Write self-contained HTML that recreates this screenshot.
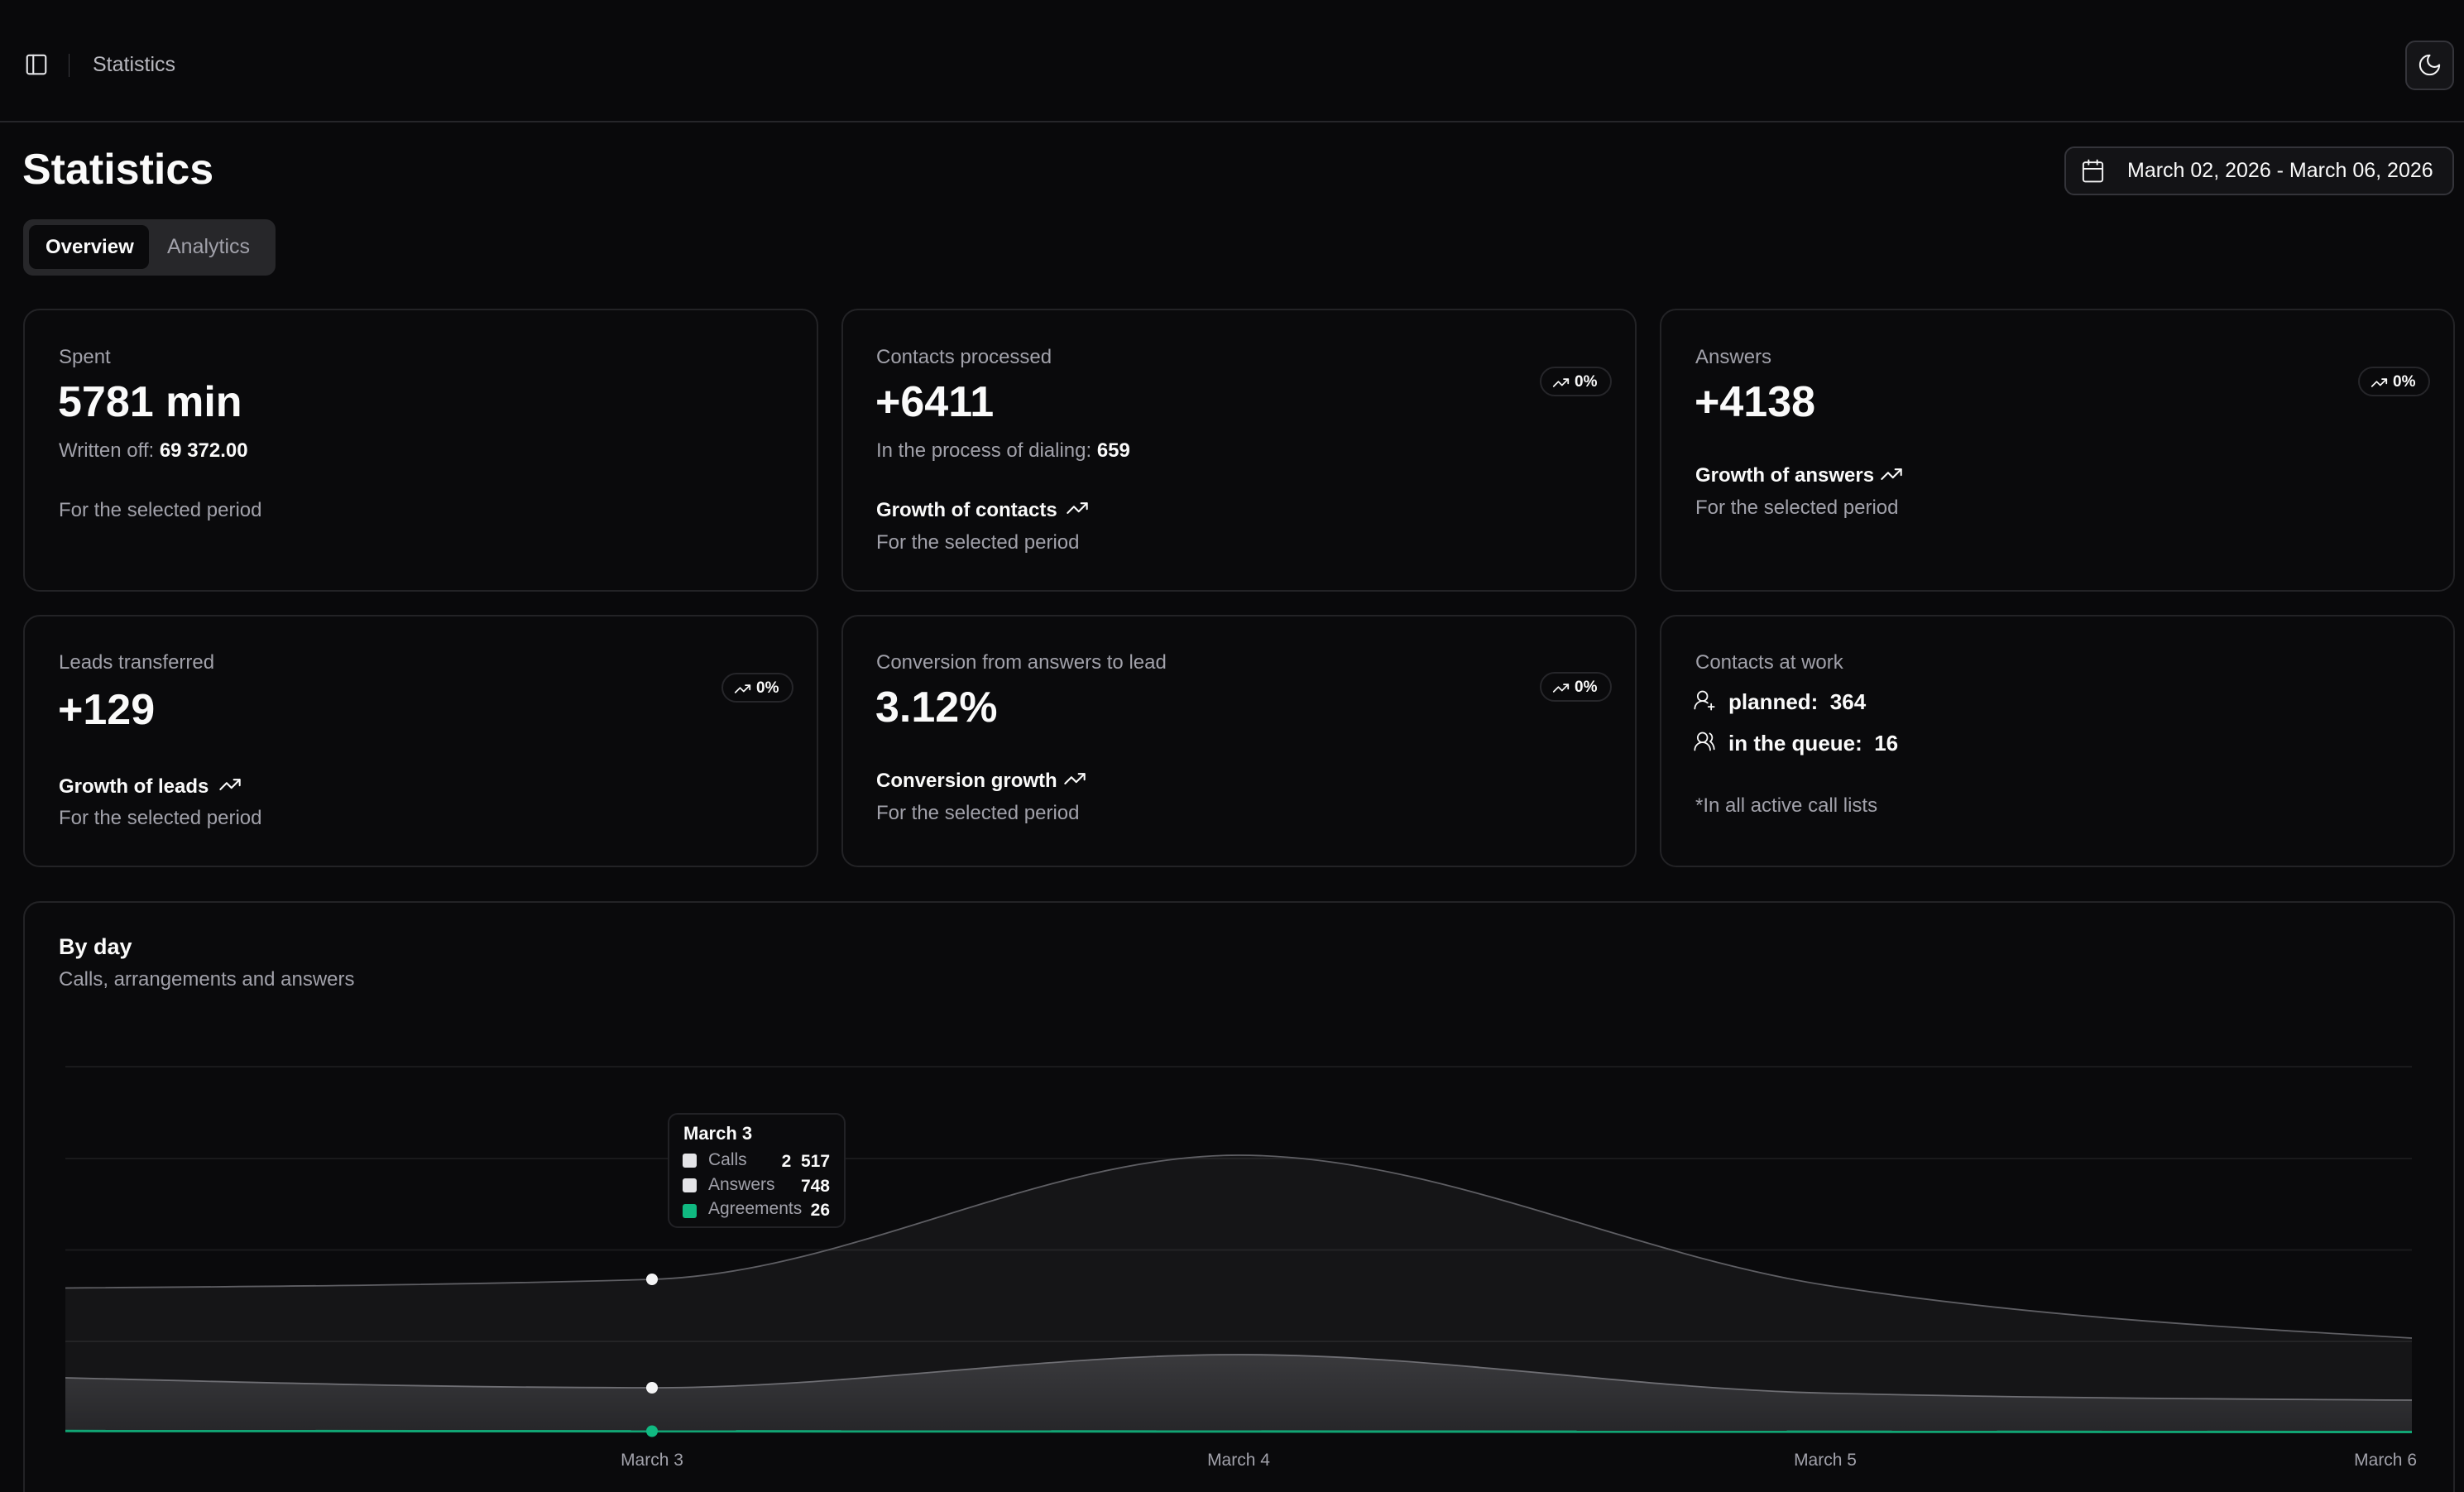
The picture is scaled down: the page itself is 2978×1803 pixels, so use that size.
<!DOCTYPE html>
<html>
<head>
<meta charset="utf-8">
<style>
  html,body{margin:0;padding:0;background:#09090b;width:2978px;height:1803px;overflow:hidden;}
  #root{position:relative;width:2978px;height:1803px;overflow:hidden;background:#09090b;font-family:"Liberation Sans",Arial,sans-serif;}
  .t{position:absolute;line-height:1;white-space:nowrap;}
  .g{color:#a1a1aa;}
  .w{color:#fafafa;}
  .b{font-weight:bold;}
  .card{position:absolute;box-sizing:border-box;border:2px solid #232326;border-radius:20px;background:#0a0a0c;}
  .badge{position:absolute;box-sizing:border-box;width:87px;height:36px;border:2px solid #26262a;border-radius:18px;background:#0a0a0c;}
  .badge svg{position:absolute;left:13px;top:7px;}
  .badge span{position:absolute;left:40px;top:7px;font-size:19px;line-height:1;font-weight:bold;color:#fafafa;}
  svg.ic{position:absolute;}
</style>
</head>
<body>
<div id="root">

<!-- Header -->
<svg class="ic" style="left:29px;top:63px" width="30" height="30" viewBox="0 0 24 24" fill="none" stroke="#e4e4e7" stroke-width="1.7" stroke-linecap="round" stroke-linejoin="round"><rect x="3" y="3" width="18" height="18" rx="2"/><path d="M9 3v18"/></svg>
<div style="position:absolute;left:83px;top:65px;width:1px;height:28px;background:#3a3a3f;"></div>
<div class="t" style="left:112px;top:66px;font-size:25px;color:#b8b8bf;">Statistics</div>

<div style="position:absolute;left:2907px;top:49px;width:59px;height:60px;box-sizing:border-box;border:2px solid #34343a;border-radius:12px;background:#151518;"></div>
<svg class="ic" style="left:2921px;top:63px" width="31" height="31" viewBox="0 0 24 24" fill="none" stroke="#f4f4f5" stroke-width="1.6" stroke-linecap="round" stroke-linejoin="round"><path d="M12 3a6 6 0 0 0 9 9 9 9 0 1 1-9-9Z"/></svg>

<div style="position:absolute;left:0;top:146px;width:2978px;height:2px;background:#26262a;"></div>

<!-- Title row -->
<div class="t w b" style="left:27px;top:179px;font-size:52px;">Statistics</div>

<div style="position:absolute;left:2495px;top:177px;width:471px;height:59px;box-sizing:border-box;border:2px solid #34343a;border-radius:12px;background:#131316;"></div>
<svg class="ic" style="left:2514px;top:191px" width="31" height="31" viewBox="0 0 24 24" fill="none" stroke="#f4f4f5" stroke-width="1.5" stroke-linecap="round" stroke-linejoin="round"><rect x="3" y="4" width="18" height="18" rx="2"/><path d="M16 2v4M8 2v4M3 10h18"/></svg>
<div class="t w" style="left:2571px;top:194px;font-size:25px;">March 02, 2026 - March 06, 2026</div>

<!-- Tabs -->
<div style="position:absolute;left:28px;top:265px;width:305px;height:68px;border-radius:12px;background:#27272a;"></div>
<div style="position:absolute;left:35px;top:272px;width:145px;height:53px;border-radius:9px;background:#0a0a0c;"></div>
<div class="t w b" style="left:55px;top:287px;font-size:24px;">Overview</div>
<div class="t g" style="left:202px;top:286px;font-size:25px;">Analytics</div>

<!-- Row 1 cards -->
<div class="card" style="left:28px;top:373px;width:961px;height:342px;"></div>
<div class="card" style="left:1017px;top:373px;width:961px;height:342px;"></div>
<div class="card" style="left:2006px;top:373px;width:961px;height:342px;"></div>

<!-- Card 1 -->
<div class="t g" style="left:71px;top:420px;font-size:24px;">Spent</div>
<div class="t w b" style="left:70px;top:460px;font-size:52px;">5781 min</div>
<div class="t g" style="left:71px;top:533px;font-size:24px;">Written off: <span class="w b">69 372.00</span></div>
<div class="t g" style="left:71px;top:605px;font-size:24px;">For the selected period</div>

<!-- Card 2 -->
<div class="t g" style="left:1059px;top:420px;font-size:24px;">Contacts processed</div>
<div class="t w b" style="left:1058px;top:460px;font-size:52px;">+6411</div>
<div class="t g" style="left:1059px;top:533px;font-size:24px;">In the process of dialing: <span class="w b">659</span></div>
<div class="t w b" style="left:1059px;top:605px;font-size:24px;">Growth of contacts</div>
<svg class="ic" style="left:1288px;top:600px" width="28" height="28" viewBox="0 0 24 24" fill="none" stroke="#fafafa" stroke-width="1.8" stroke-linecap="round" stroke-linejoin="round"><polyline points="22 7 13.5 15.5 8.5 10.5 2 17"/><polyline points="16 7 22 7 22 13"/></svg>
<div class="t g" style="left:1059px;top:644px;font-size:24px;">For the selected period</div>
<div class="badge" style="left:1861px;top:443px;"><svg width="21" height="21" viewBox="0 0 24 24" fill="none" stroke="#fafafa" stroke-width="2" stroke-linecap="round" stroke-linejoin="round"><polyline points="22 7 13.5 15.5 8.5 10.5 2 17"/><polyline points="16 7 22 7 22 13"/></svg><span>0%</span></div>

<!-- Card 3 -->
<div class="t g" style="left:2049px;top:420px;font-size:24px;">Answers</div>
<div class="t w b" style="left:2048px;top:460px;font-size:52px;">+4138</div>
<div class="t w b" style="left:2049px;top:563px;font-size:24px;">Growth of answers</div>
<svg class="ic" style="left:2272px;top:559px" width="28" height="28" viewBox="0 0 24 24" fill="none" stroke="#fafafa" stroke-width="1.8" stroke-linecap="round" stroke-linejoin="round"><polyline points="22 7 13.5 15.5 8.5 10.5 2 17"/><polyline points="16 7 22 7 22 13"/></svg>
<div class="t g" style="left:2049px;top:602px;font-size:24px;">For the selected period</div>
<div class="badge" style="left:2850px;top:443px;"><svg width="21" height="21" viewBox="0 0 24 24" fill="none" stroke="#fafafa" stroke-width="2" stroke-linecap="round" stroke-linejoin="round"><polyline points="22 7 13.5 15.5 8.5 10.5 2 17"/><polyline points="16 7 22 7 22 13"/></svg><span>0%</span></div>

<!-- Row 2 cards -->
<div class="card" style="left:28px;top:743px;width:961px;height:305px;"></div>
<div class="card" style="left:1017px;top:743px;width:961px;height:305px;"></div>
<div class="card" style="left:2006px;top:743px;width:961px;height:305px;"></div>

<!-- Card 4 -->
<div class="t g" style="left:71px;top:789px;font-size:24px;">Leads transferred</div>
<div class="t w b" style="left:70px;top:832px;font-size:52px;">+129</div>
<div class="t w b" style="left:71px;top:939px;font-size:24px;">Growth of leads</div>
<svg class="ic" style="left:264px;top:934px" width="28" height="28" viewBox="0 0 24 24" fill="none" stroke="#fafafa" stroke-width="1.8" stroke-linecap="round" stroke-linejoin="round"><polyline points="22 7 13.5 15.5 8.5 10.5 2 17"/><polyline points="16 7 22 7 22 13"/></svg>
<div class="t g" style="left:71px;top:977px;font-size:24px;">For the selected period</div>
<div class="badge" style="left:872px;top:813px;"><svg width="21" height="21" viewBox="0 0 24 24" fill="none" stroke="#fafafa" stroke-width="2" stroke-linecap="round" stroke-linejoin="round"><polyline points="22 7 13.5 15.5 8.5 10.5 2 17"/><polyline points="16 7 22 7 22 13"/></svg><span>0%</span></div>

<!-- Card 5 -->
<div class="t g" style="left:1059px;top:789px;font-size:24px;">Conversion from answers to lead</div>
<div class="t w b" style="left:1058px;top:829px;font-size:52px;">3.12%</div>
<div class="t w b" style="left:1059px;top:932px;font-size:24px;">Conversion growth</div>
<svg class="ic" style="left:1285px;top:927px" width="28" height="28" viewBox="0 0 24 24" fill="none" stroke="#fafafa" stroke-width="1.8" stroke-linecap="round" stroke-linejoin="round"><polyline points="22 7 13.5 15.5 8.5 10.5 2 17"/><polyline points="16 7 22 7 22 13"/></svg>
<div class="t g" style="left:1059px;top:971px;font-size:24px;">For the selected period</div>
<div class="badge" style="left:1861px;top:812px;"><svg width="21" height="21" viewBox="0 0 24 24" fill="none" stroke="#fafafa" stroke-width="2" stroke-linecap="round" stroke-linejoin="round"><polyline points="22 7 13.5 15.5 8.5 10.5 2 17"/><polyline points="16 7 22 7 22 13"/></svg><span>0%</span></div>

<!-- Card 6 -->
<div class="t g" style="left:2049px;top:789px;font-size:24px;">Contacts at work</div>
<svg class="ic" style="left:2046px;top:832px" width="28" height="28" viewBox="0 0 24 24" fill="none" stroke="#fafafa" stroke-width="1.5" stroke-linecap="round" stroke-linejoin="round"><path d="M2 21a8 8 0 0 1 13.292-6"/><circle cx="10" cy="8" r="5"/><path d="M19 16v6M22 19h-6"/></svg>
<div class="t w b" style="left:2089px;top:835px;font-size:26px;">planned:&nbsp; 364</div>
<svg class="ic" style="left:2046px;top:882px" width="28" height="28" viewBox="0 0 24 24" fill="none" stroke="#fafafa" stroke-width="1.5" stroke-linecap="round" stroke-linejoin="round"><path d="M18 21a8 8 0 0 0-16 0"/><circle cx="10" cy="8" r="5"/><path d="M22 20c0-3.37-2-6.5-4-8a5 5 0 0 0-.45-8.3"/></svg>
<div class="t w b" style="left:2089px;top:885px;font-size:26px;">in the queue:&nbsp; 16</div>
<div class="t g" style="left:2049px;top:962px;font-size:24px;">*In all active call lists</div>

<!-- Chart card -->
<div class="card" style="left:28px;top:1089px;width:2939px;height:760px;"></div>
<div class="t w b" style="left:71px;top:1131px;font-size:27px;">By day</div>
<div class="t g" style="left:71px;top:1172px;font-size:24px;">Calls, arrangements and answers</div>

<svg style="position:absolute;left:0;top:0" width="2978" height="1803" viewBox="0 0 2978 1803">
  <defs>
    <linearGradient id="ga" x1="0" y1="1637" x2="0" y2="1730" gradientUnits="userSpaceOnUse">
      <stop offset="0" stop-color="#3a3a3d"/>
      <stop offset="1" stop-color="#262629"/>
    </linearGradient>
  </defs>
  <path d="M79,1556.5 C315.33,1554.75 551.67,1553 788,1546 C1024.33,1539 1260.67,1396 1497,1396 C1733.33,1396 1969.67,1516.2 2206,1553 C2442.33,1589.8 2678.67,1603.4 2915,1617 L2915,1730 L79,1730 Z" fill="#151517"/>
  <path d="M79,1665 C315.33,1671 551.67,1677 788,1677 C1024.33,1677 1260.67,1637 1497,1637 C1733.33,1637 1969.67,1677.8 2206,1683.5 C2442.33,1689.2 2678.67,1690.6 2915,1692 L2915,1730 L79,1730 Z" fill="url(#ga)"/>
  <g stroke="rgba(255,255,255,0.065)" stroke-width="2">
    <line x1="79" y1="1289" x2="2915" y2="1289"/>
    <line x1="79" y1="1400" x2="2915" y2="1400"/>
    <line x1="79" y1="1510.5" x2="2915" y2="1510.5"/>
    <line x1="79" y1="1621" x2="2915" y2="1621"/>
  </g>
  <path d="M79,1556.5 C315.33,1554.75 551.67,1553 788,1546 C1024.33,1539 1260.67,1396 1497,1396 C1733.33,1396 1969.67,1516.2 2206,1553 C2442.33,1589.8 2678.67,1603.4 2915,1617" fill="none" stroke="#5e5e63" stroke-width="1.8"/>
  <path d="M79,1665 C315.33,1671 551.67,1677 788,1677 C1024.33,1677 1260.67,1637 1497,1637 C1733.33,1637 1969.67,1677.8 2206,1683.5 C2442.33,1689.2 2678.67,1690.6 2915,1692" fill="none" stroke="#6e6e73" stroke-width="1.8"/>
  <path d="M79,1729.3 L2915,1730.5" fill="none" stroke="#11a574" stroke-width="3"/>
  <circle cx="788" cy="1546" r="7" fill="#f4f4f5"/>
  <circle cx="788" cy="1677" r="7" fill="#f4f4f5"/>
  <circle cx="788" cy="1729.5" r="7" fill="#10b981"/>
  <g font-family="Liberation Sans, Arial, sans-serif" font-size="21" fill="#a1a1aa">
    <text x="788" y="1771" text-anchor="middle">March 3</text>
    <text x="1497" y="1771" text-anchor="middle">March 4</text>
    <text x="2206" y="1771" text-anchor="middle">March 5</text>
    <text x="2921" y="1771" text-anchor="end">March 6</text>
  </g>
</svg>

<!-- Tooltip -->
<div style="position:absolute;left:807px;top:1345px;width:215px;height:139px;box-sizing:border-box;border:2px solid #222226;border-radius:12px;background:#0b0b0d;"></div>
<div class="t w b" style="left:826px;top:1359px;font-size:22px;">March 3</div>
<div style="position:absolute;left:825px;top:1394px;width:17px;height:17px;border-radius:3px;background:#e4e4e7;"></div>
<div style="position:absolute;left:825px;top:1424px;width:17px;height:17px;border-radius:3px;background:#e4e4e7;"></div>
<div style="position:absolute;left:825px;top:1455px;width:17px;height:17px;border-radius:3px;background:#10b981;"></div>
<div class="t g" style="left:856px;top:1391px;font-size:21px;">Calls</div>
<div class="t g" style="left:856px;top:1421px;font-size:21px;">Answers</div>
<div class="t g" style="left:856px;top:1450px;font-size:21px;">Agreements</div>
<div class="t w b" style="left:900px;width:103px;text-align:right;top:1393px;font-size:21px;">2&nbsp;&nbsp;517</div>
<div class="t w b" style="left:900px;width:103px;text-align:right;top:1423px;font-size:21px;">748</div>
<div class="t w b" style="left:900px;width:103px;text-align:right;top:1452px;font-size:21px;">26</div>

</div>
</body>
</html>
